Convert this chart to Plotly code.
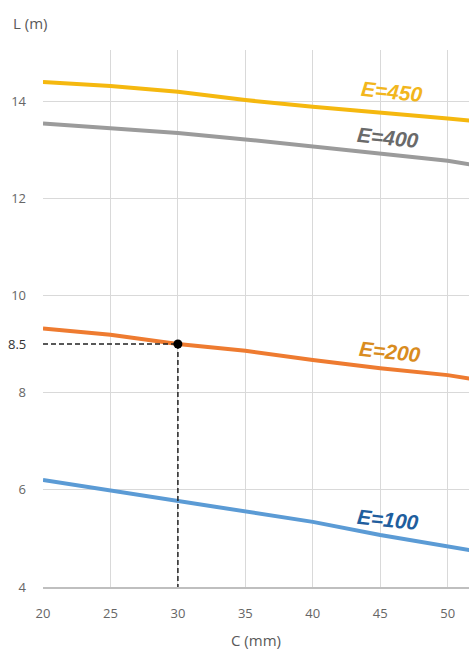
import plotly.graph_objects as go

# Data
c_mm = [20, 25, 30, 35, 40, 45, 50, 51.6]
L_E450 = [14.39, 14.31, 14.19, 14.02, 13.88, 13.75, 13.64, 13.60]
L_E400 = [13.54, 13.45, 13.34, 13.21, 13.07, 12.93, 12.77, 12.70]
L_E200 = [9.32, 9.19, 9.00, 8.86, 8.67, 8.50, 8.36, 8.29]
L_E100 = [6.20, 5.98, 5.77, 5.55, 5.34, 5.07, 4.83, 4.76]

series_names = ["E=450", "E=400", "E=200", "E=100"]
series_values = [L_E450, L_E400, L_E200, L_E100]
line_colors = ["#F5B80F", "#9B9B9B", "#EE7B30", "#5B9BD5"]
label_colors = ["#F2B61C", "#6A6A6A", "#D98C1E", "#1F5E9E"]
label_pos = [(45.9, 14.19), (45.6, 13.24), (45.7, 8.84), (45.6, 5.38)]

x_ticks = [20, 25, 30, 35, 40, 45, 50]
y_ticks = [4, 6, 8, 10, 12, 14]

read_c = 30
read_L = 9.0
read_label = "8.5"

fig = go.Figure()
for name, vals, col in zip(series_names, series_values, line_colors):
    fig.add_trace(go.Scatter(x=c_mm, y=vals, mode="lines", name=name,
                             line=dict(color=col, width=4),
                             showlegend=False, hoverinfo="skip"))

# dashed reading lines
fig.add_trace(go.Scatter(x=[20, read_c], y=[read_L, read_L], mode="lines",
                         line=dict(color="#222222", width=1.5, dash="5px,3px"),
                         showlegend=False, hoverinfo="skip"))
fig.add_trace(go.Scatter(x=[read_c, read_c], y=[read_L, 4], mode="lines",
                         line=dict(color="#222222", width=1.5, dash="5px,3px"),
                         showlegend=False, hoverinfo="skip"))
fig.add_trace(go.Scatter(x=[read_c], y=[read_L], mode="markers",
                         marker=dict(color="black", size=9),
                         showlegend=False, hoverinfo="skip"))

for name, (lx, ly), col in zip(series_names, label_pos, label_colors):
    fig.add_annotation(x=lx, y=ly, text="<b><i>" + name + "</i></b>", showarrow=False,
                       textangle=6, font=dict(family="Liberation Sans, Arial", size=21, color=col))

fig.add_annotation(x=0, xref="paper", xanchor="right", xshift=-15, y=read_L, yref="y",
                   text=read_label, showarrow=False,
                   font=dict(family="Open Sans", size=13, color="#333333"))

fig.add_annotation(x=-0.03, xref="paper", xanchor="center", y=1.0, yref="paper", yshift=27,
                   showarrow=False, yanchor="middle",
                   text="L (m)", font=dict(family="Open Sans", size=15, color="#595959"))

fig.update_layout(
    width=469, height=653,
    margin=dict(l=43, r=0, t=50, b=66),
    plot_bgcolor="white", paper_bgcolor="white",
    font=dict(family="Open Sans", size=13, color="#666666"),
)
fig.update_xaxes(range=[20, 51.58], tickvals=x_ticks, showgrid=True, gridcolor="#D9D9D9",
                 gridwidth=1, zeroline=False, showline=True, linecolor="#BFBFBF", linewidth=1.5,
                 ticks="", ticklabelstandoff=14, automargin=False,
                 title=dict(text="C (mm)", font=dict(size=15, color="#595959"), standoff=14))
fig.update_yaxes(range=[4, 15.05], tickvals=y_ticks, showgrid=True, gridcolor="#D9D9D9",
                 gridwidth=1, zeroline=False, showline=False, ticks="", ticklabelstandoff=16,
                 automargin=False)

fig.write_html("out.html", config={"displayModeBar": False},
               post_script="document.body.style.margin='0';document.body.style.overflow='hidden';")
